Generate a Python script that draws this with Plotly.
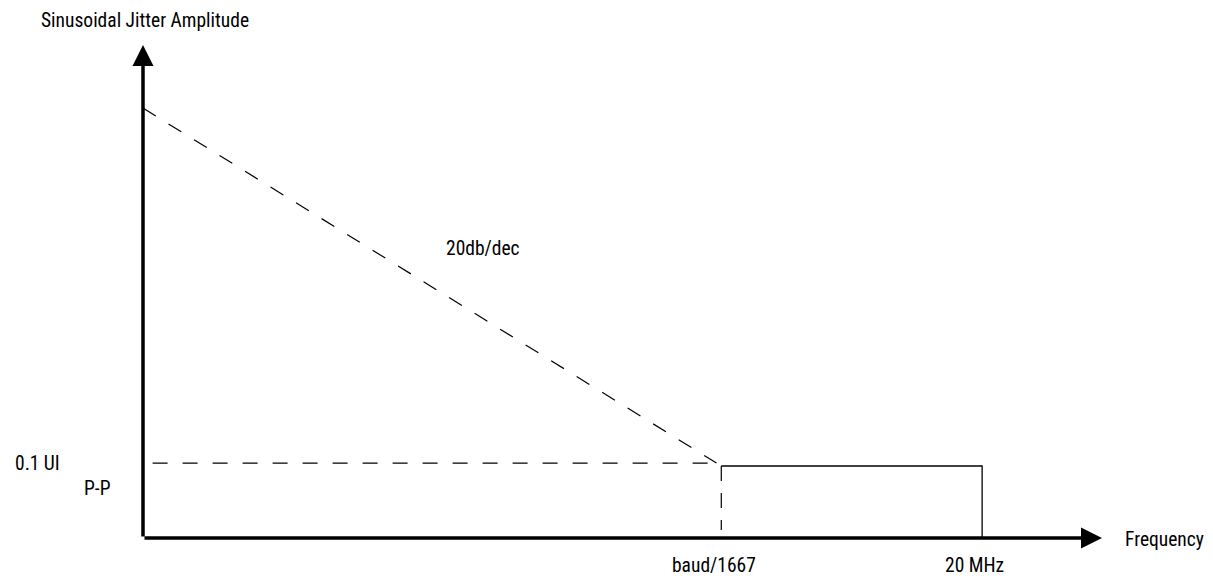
import plotly.graph_objects as go

# ---- data (conceptual units: axes run 0..100) ----
freq_labels = ["baud/1667", "20 MHz"]
freq_pos = [60.3, 87.5]            # corner frequency, upper frequency limit
amp_level = 14.6                    # 0.1 UI p-p plateau
slope_start_amp = 87.2              # amplitude at left edge for 20 dB/dec line
slope_corner_x = 59.8
slope_corner_y = 15.2
ref_start_x = 1.0
axis_max = 100

FONT = "Roboto Condensed, Liberation Sans Narrow, DejaVu Sans Condensed, sans-serif"

fig = go.Figure()

# 20 dB/dec dashed slope
fig.add_trace(go.Scatter(
    x=[0, slope_corner_x], y=[slope_start_amp, slope_corner_y],
    mode="lines", line=dict(color="black", width=1.2, dash="15px,15px"),
    hoverinfo="skip"))
# horizontal dashed reference at 0.1 UI
fig.add_trace(go.Scatter(
    x=[ref_start_x, slope_corner_x], y=[slope_corner_y, slope_corner_y],
    mode="lines", line=dict(color="black", width=1.2, dash="15px,15px"),
    hoverinfo="skip"))
# vertical dashed at corner frequency
fig.add_trace(go.Scatter(
    x=[freq_pos[0], freq_pos[0]], y=[amp_level, 1.6],
    mode="lines", line=dict(color="black", width=1.2, dash="15px,12px"),
    hoverinfo="skip"))
# solid plateau mask
fig.add_trace(go.Scatter(
    x=[freq_pos[0], freq_pos[1], freq_pos[1]], y=[amp_level, amp_level, 0],
    mode="lines", line=dict(color="black", width=1.3),
    hoverinfo="skip"))

ann = []
# axes with arrowheads
ann.append(dict(x=0, y=axis_max, ax=0, ay=0, xref="x", yref="y", axref="x", ayref="y",
                showarrow=True, arrowhead=2, arrowsize=1.2, arrowwidth=3.5,
                arrowcolor="black", text=""))
ann.append(dict(x=axis_max, y=0, ax=0, ay=0, xref="x", yref="y", axref="x", ayref="y",
                showarrow=True, arrowhead=2, arrowsize=1.2, arrowwidth=3.5,
                arrowcolor="black", text=""))

def label(text, x, y, xanchor="center"):
    # positions given in axis units; converted to paper fraction so labels
    # outside the axis range are still shown
    ann.append(dict(x=x / axis_max, y=y / axis_max, xref="paper", yref="paper",
                    text=text, showarrow=False,
                    xanchor=xanchor, yanchor="middle",
                    font=dict(family=FONT, size=19.5, color="black")))

label("Sinusoidal Jitter Amplitude", 0.2, 105)
label("0.1 UI", -8.4, slope_corner_y, xanchor="right")
label("P-P", -4.7, 10.1)
label("20db/dec", 35.5, 58.8)
for t, p in zip(freq_labels, freq_pos):
    label(t, p - 0.8, -5.5)
label("Frequency", 102.2, -0.4, xanchor="left")

fig.update_layout(
    width=1213, height=579,
    margin=dict(l=135, r=119, t=37, b=49),
    paper_bgcolor="white", plot_bgcolor="white",
    showlegend=False,
    xaxis=dict(range=[0, axis_max], visible=False, fixedrange=True),
    yaxis=dict(range=[0, axis_max], visible=False, fixedrange=True),
    annotations=ann,
)

fig.write_html("out.html")
